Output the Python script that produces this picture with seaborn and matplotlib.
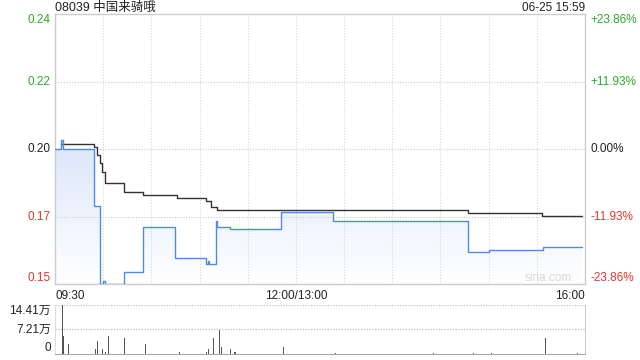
import numpy as np
import matplotlib
matplotlib.use("Agg")
import matplotlib.pyplot as plt
from matplotlib.colors import LinearSegmentedColormap
import seaborn as sns

# trading minutes since 09:30 (lunch break removed), prices in HKD
price_min = [0, 4, 5, 24, 28, 30, 31, 43, 55, 75, 94, 95, 96, 100, 101, 109, 141, 173, 257, 270, 304, 328]
price_val = [0.197, 0.200, 0.197, 0.177, 0.150, 0.151, 0.150, 0.154, 0.170, 0.159, 0.157, 0.158, 0.157,
             0.172, 0.170, 0.169, 0.175, 0.172, 0.161, 0.162, 0.163, 0.163]

avg_min = [4, 24, 26, 28, 29, 31, 43, 55, 76, 94, 97, 101, 257, 303, 328]
avg_val = [0.1987, 0.1977, 0.1949, 0.1921, 0.1890, 0.1850, 0.1820, 0.1810, 0.1799, 0.1789, 0.1768, 0.1757,
           0.1747, 0.1737, 0.1737]

vol_min = [4, 5, 8, 25, 26, 29, 31, 33, 43, 56, 77, 94, 95, 96, 98, 101, 102, 103, 109, 111, 112, 142,
           174, 235, 260, 271, 305, 325]
vol_val = [14.41, 5.3, 2.9, 1.5, 3.8, 1.5, 0.7, 5.3, 4.7, 2.9, 0.6, 0.6, 1.5, 0.6, 4.7, 1.5, 7.1, 2.1,
           1.5, 0.6, 0.6, 2.1, 0.4, 0.4, 0.4, 0.4, 4.7, 0.4]

prev_close = 0.197
pct_ticks = [-0.2386, -0.1193, 0.0, 0.1193, 0.2386]
left_labels = ["0.15", "0.17", "0.20", "0.22", "0.24"]
right_labels = ["-23.86%", "-11.93%", "0.00%", "+11.93%", "+23.86%"]
x_ticks = [0, 150, 330]
x_labels = ["09:30", "12:00/13:00", "16:00"]
vol_ticks = [0, 7.21, 14.41]
vol_labels = ["0", "7.21万", "14.41万"]

GREEN = "#2ea82e"
RED = "#e8352e"
tick_colors = [RED, RED, "#222222", GREEN, GREEN]
edge_va = ["bottom", "center", "center", "center", "top"]

sns.set_style("white")
plt.rcParams["font.family"] = ["Liberation Sans", "Noto Sans CJK SC", "DejaVu Sans"]

fig = plt.figure(figsize=(6.4, 3.6), dpi=100)
ax = fig.add_axes([55 / 640, 1 - 284 / 360, 530 / 640, 270 / 360])
axv = fig.add_axes([55 / 640, 1 - 354 / 360, 530 / 640, 49 / 360])

yticks = [prev_close * (1 + p) for p in pct_ticks]
ymin, ymax = yticks[0], yticks[-1]

# gradient fill under price line
poly = ax.fill_between(price_min, price_val, ymin, step="post", color="none")
cmap = LinearSegmentedColormap.from_list("fade", ["#ffffff", "#dbe6fa"])
grad = np.linspace(0, 1, 256).reshape(-1, 1)
im = ax.imshow(grad, extent=[0, 330, ymin, max(price_val)], aspect="auto", cmap=cmap,
               origin="lower", zorder=1)
im.set_clip_path(poly.get_paths()[0], transform=ax.transData)

sns.lineplot(x=avg_min, y=avg_val, drawstyle="steps-post", color="#333333", lw=1, ax=ax, zorder=3)
sns.lineplot(x=price_min, y=price_val, drawstyle="steps-post", color="#4f8be6", lw=1, ax=ax, zorder=4)

ax.set_xlim(0, 330)
ax.set_ylim(ymin, ymax)
ax.set_yticks(yticks)
ax.set_yticklabels(left_labels, fontsize=8.5)
for lbl, c, va in zip(ax.get_yticklabels(), tick_colors, edge_va):
    lbl.set_color(c)
    lbl.set_verticalalignment(va)
ax.set_xticks(x_ticks)
ax.set_xticklabels(x_labels, fontsize=8.5, color="#222222")
for lbl, ha in zip(ax.get_xticklabels(), ["left", "center", "right"]):
    lbl.set_horizontalalignment(ha)
ax.tick_params(length=0, pad=3)
ax.tick_params(axis="x", pad=4)
for y in yticks[1:-1]:
    ax.axhline(y, color="#c8c8c8", lw=0.8, ls=(0, (1, 1.5)), zorder=2)
for x in range(30, 330, 30):
    ax.axvline(x, color="#d8d8d8", lw=0.8, ls=(0, (1, 1.5)), zorder=2)
for s in ax.spines.values():
    s.set_color("#cccccc")
    s.set_linewidth(1)

ax2 = ax.twinx()
ax2.set_ylim(ymin, ymax)
ax2.set_yticks(yticks)
ax2.set_yticklabels(right_labels, fontsize=8.5)
for lbl, c, va in zip(ax2.get_yticklabels(), tick_colors, edge_va):
    lbl.set_color(c)
    lbl.set_verticalalignment(va)
ax2.tick_params(length=0, pad=4)
for s in ax2.spines.values():
    s.set_visible(False)

ax.text(0.975, 0.0, "sina.com", transform=ax.transAxes, ha="right", va="bottom",
        fontsize=8.5, color="#d8d8d8")

# volume
sns.histplot(x=vol_min, weights=vol_val, binwidth=1, binrange=(0, 330), shrink=0.6,
             color="#555555", edgecolor="none", alpha=1, ax=axv)
axv.set_xlim(0, 330)
axv.set_ylim(0, 14.41)
axv.set_ylabel("")
axv.set_xticks([])
axv.set_yticks(vol_ticks)
axv.set_yticklabels(vol_labels, fontsize=8.5, color="#222222")
for lbl, va in zip(axv.get_yticklabels(), ["bottom", "center", "top"]):
    lbl.set_verticalalignment(va)
axv.tick_params(length=0, pad=3)
axv.axhline(14.41, color="#c8c8c8", lw=1, ls=(0, (1, 1)), zorder=0)
axv.axhline(7.21, color="#c8c8c8", lw=1, ls=(0, (1, 1)), zorder=0)
axv.spines["top"].set_visible(False)
axv.spines["right"].set_color("#cccccc")
axv.spines["left"].set_color("#dddddd")
axv.spines["left"].set_linestyle((0, (1, 1)))
axv.spines["bottom"].set_color("#aaaaaa")
axv.spines["bottom"].set_linestyle((0, (1, 1)))

fig.text(55 / 640, 1 - 8 / 360, "08039 中国来骑哦", ha="left", va="center", fontsize=9, color="#222222")
fig.text(585 / 640, 1 - 8 / 360, "06-25 15:59", ha="right", va="center", fontsize=8.5, color="#222222")

fig.savefig("out.png", dpi=100)
